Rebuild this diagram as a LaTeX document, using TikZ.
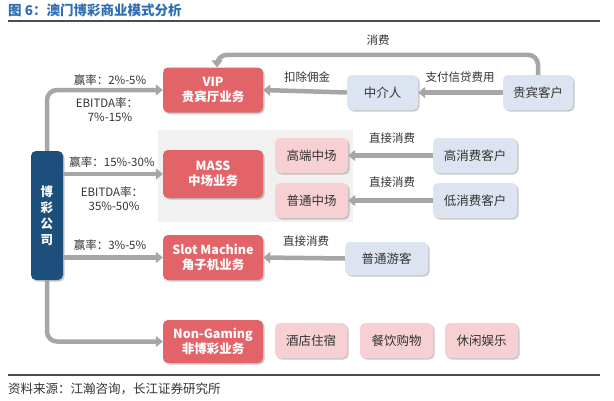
\documentclass[tikz,border=0pt]{standalone}
\usepackage{fontspec}
\setmainfont{Noto Sans CJK SC}
\usetikzlibrary{arrows.meta,shadows}
\definecolor{redbox}{HTML}{E36468}
\definecolor{pinkbox}{HTML}{F6D0D3}
\definecolor{bluebox}{HTML}{DDE4F1}
\definecolor{darkblue}{HTML}{1D4F7C}
\definecolor{arrgray}{HTML}{A6A6A6}
\definecolor{titleblue}{HTML}{2F6EB5}
\definecolor{panel}{HTML}{F1F1F1}
\definecolor{txt}{HTML}{333333}
\tikzset{
  base/.style={rounded corners=5pt, align=center, inner sep=0pt,
    drop shadow={shadow xshift=1.5pt, shadow yshift=-1.5pt, opacity=0.35, fill=black!60}},
  redb/.style={base, fill=redbox, text=white, font=\fontsize{12.5}{15}\selectfont\bfseries,
    minimum width=100pt},
  pinkb/.style={base, fill=pinkbox, text=txt, font=\fontsize{12.5}{15}\selectfont,
    minimum width=73pt, minimum height=35pt},
  blueb/.style={base, fill=bluebox, text=txt, font=\fontsize{12.5}{15}\selectfont,
    minimum height=35pt},
  arr/.style={draw=arrgray, line width=4.5pt, rounded corners=10pt,
    -{Triangle[width=11pt,length=7pt]}},
  lbl/.style={text=txt, font=\fontsize{11.5}{14}\selectfont, align=center, inner sep=0pt}
}
\begin{document}
\begin{tikzpicture}[x=1pt,y=-1pt]
\useasboundingbox[fill=white] (0,0) rectangle (614,400);
% title
\node[anchor=west, text=titleblue, font=\fontsize{13.5}{16}\selectfont\bfseries, inner sep=0pt] (title) at (8,10) {图 6：澳门博彩商业模式分析};
\draw[line width=1.5pt, black!70] (8,21) -- (600,21);
\draw[line width=1.5pt, black!70] (8,375) -- (600,375);
\node[anchor=west, text=txt, font=\fontsize{12.5}{15}\selectfont, inner sep=0pt] (src) at (8,389) {资料来源：江瀚咨询，长江证券研究所};
% grey panel
\fill[panel] (158,130) rectangle (353,222);
% boxes
\node[redb, minimum height=45pt] (vip) at (213,90) {VIP\\贵宾厅业务};
\node[redb, minimum height=48pt] (mass) at (213,174) {MASS\\中场业务};
\node[redb, minimum height=45pt] (slot) at (213,257.5) {Slot Machine\\角子机业务};
\node[redb, minimum height=43pt] (ng) at (213,341.5) {Non-Gaming\\非博彩业务};
\node[base, fill=darkblue, text=white, minimum width=32pt, minimum height=129pt,
  font=\fontsize{12.5}{16}\selectfont\bfseries] (co) at (47,215.5) {博\\彩\\公\\司};
\node[pinkb] (gd) at (311.5,155.5) {高端中场};
\node[pinkb] (pt) at (311.5,200.5) {普通中场};
\node[blueb, minimum width=84pt] (gx) at (475,155.5) {高消费客户};
\node[blueb, minimum width=84pt] (dx) at (475,200.5) {低消费客户};
\node[blueb, minimum width=83pt, minimum height=33pt] (yk) at (386.5,258.5) {普通游客};
\node[blueb, minimum width=71pt] (zj) at (382.5,92.5) {中介人};
\node[blueb, minimum width=70pt] (kh) at (538,92.5) {贵宾客户};
\node[pinkb, minimum width=72pt] (jd) at (311,340.5) {酒店住宿};
\node[pinkb] (cy) at (396.5,340.5) {餐饮购物};
\node[pinkb] (xx) at (481.5,340.5) {休闲娱乐};
% arrows
\draw[arr] (kh.north) -- ++(0,-20) -| ([xshift=4pt]vip.north);
\draw[arr] (kh.west) -- (zj.east);
\draw[arr] (zj.west) -- (vip.east);
\draw[arr] (gx.west) -- (gd.east);
\draw[arr] (dx.west) -- (pt.east);
\draw[arr] (yk.west) -- (slot.east);
\draw[arr] (co.north) |- (vip.west);
\draw[arr] (co.east |- mass) -- (mass.west);
\draw[arr] (co.east |- slot) -- (slot.west);
\draw[arr] (co.south) |- (ng.west);
% labels
\node[lbl] (l1) at (378,40) {消费};
\node[lbl] (l2) at (460,77) {支付信贷费用};
\node[lbl] (l3) at (307,77) {扣除佣金};
\node[lbl] (l4) at (392,138) {直接消费};
\node[lbl] (l5) at (392,182) {直接消费};
\node[lbl] (l6) at (306,241) {直接消费};
\node[lbl] (r1) at (110,80) {赢率：2\%-5\%};
\node[lbl] (r2) at (107,103) {EBITDA率：};
\node[lbl] (r3) at (110,117) {7\%-15\%};
\node[lbl] (r4) at (112,162) {赢率：15\%-30\%};
\node[lbl] (r5) at (112,192) {EBITDA率：};
\node[lbl] (r6) at (114,206) {35\%-50\%};
\node[lbl] (r7) at (110,245) {赢率：3\%-5\%};
\end{tikzpicture}
\end{document}
